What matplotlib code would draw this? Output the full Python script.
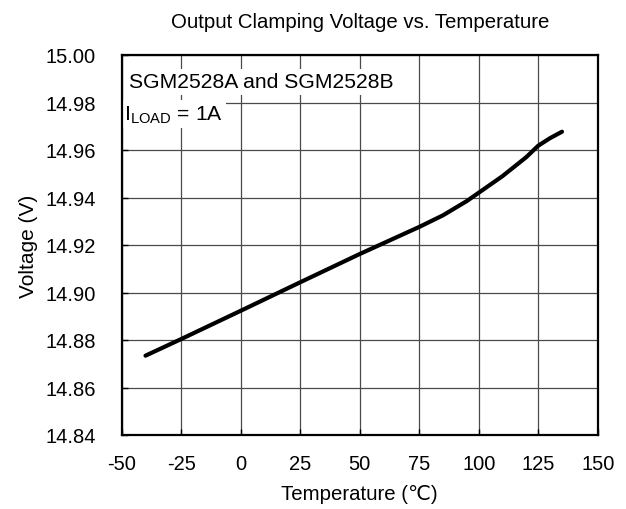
import matplotlib
matplotlib.use("Agg")
import matplotlib.pyplot as plt

plt.rcParams['font.family'] = ['Liberation Sans', 'DejaVu Sans']

temperature = [-40, -25, 0, 25, 50, 75, 85, 90, 95, 100, 110, 120, 125, 130, 135]
voltage = [14.8734, 14.8804, 14.8923, 14.9043, 14.9162, 14.9276, 14.9325, 14.9355, 14.9385, 14.9420, 14.9490, 14.9570, 14.9618, 14.9650, 14.9677]

x_ticks = [-50, -25, 0, 25, 50, 75, 100, 125, 150]
y_ticks = [14.84, 14.86, 14.88, 14.90, 14.92, 14.94, 14.96, 14.98, 15.00]

W, H = 626, 510
fig = plt.figure(figsize=(W / 100, H / 100), dpi=100)
L, R, T, B = 121.7, 597.7, 56.0, 436.0
ax = fig.add_axes([L / W, 1 - B / H, (R - L) / W, (B - T) / H])

ax.plot(temperature, voltage, color='black', lw=3.0, solid_capstyle='round', zorder=3)

ax.set_xlim(-50, 150)
ax.set_ylim(14.84, 15.00)
ax.set_xticks(x_ticks)
ax.set_yticks(y_ticks)
ax.set_xticklabels([str(t) for t in x_ticks])
ax.set_yticklabels([f"{t:.2f}" for t in y_ticks])
ax.grid(True, color='#4a4a4a', lw=0.9, zorder=1)
ax.tick_params(axis='both', direction='in', length=4, width=1, labelsize=14.5, colors='black')
ax.tick_params(axis='x', pad=13.7)
ax.tick_params(axis='y', pad=18.5)
for s in ax.spines.values():
    s.set_linewidth(1.6)
    s.set_zorder(4)

ax.set_title('Output Clamping Voltage vs. Temperature', fontsize=14.7, pad=20.2)
ax.set_xlabel('Temperature (\u2103)', fontsize=14.7)
ax.xaxis.set_label_coords(0.5, (B - 485) / (B - T))
ax.set_ylabel('Voltage (V)', fontsize=15)
ax.yaxis.set_label_coords((38 - L) / (R - L), 0.5)

ax.text((129 - L) / (R - L), (B - 88.3) / (B - T), 'SGM2528A and SGM2528B',
        transform=ax.transAxes, fontsize=15.2, va='baseline', ha='left', zorder=2,
        bbox=dict(facecolor='white', edgecolor='none', pad=2.5))
ax.text((124 - L) / (R - L), (B - 120) / (B - T), r'I$_{\mathregular{LOAD}}$ = 1A ',
        transform=ax.transAxes, fontsize=15.2, va='baseline', ha='left', zorder=2,
        bbox=dict(facecolor='white', edgecolor='none', pad=2.5))

fig.savefig('out.png', dpi=100)
